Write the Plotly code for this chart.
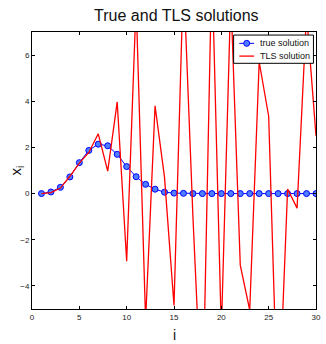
import plotly.graph_objects as go

idx = list(range(1, 31))
true_solution = [0.0, 0.07, 0.27, 0.72, 1.34, 1.87, 2.14, 2.07, 1.70, 1.17,
                 0.73, 0.40, 0.19, 0.06, 0.02, 0.01, 0.0, 0.0, 0.0, 0.0,
                 0.0, 0.0, 0.0, 0.0, 0.0, 0.0, 0.0, 0.0, 0.0, 0.0]
tls_solution = [0.0, 0.04, 0.24, 0.75, 1.32, 1.78, 2.59, 0.97, 3.97, -2.93,
                8.3, -5.5, 3.8, 0.7, -4.85, 9.5, -1.0, -10.0, 10.0, -6.0,
                8.6, -3.1, -5.05, 5.7, 3.35, -10.2, 0.2, -0.63, 7.8, 2.5]
x_ticks = [0, 5, 10, 15, 20, 25, 30]
y_ticks = [-4, -2, 0, 2, 4, 6]
legend_labels = ["true solution", "TLS solution"]

font = "Liberation Sans, Arial, Helvetica, sans-serif"
blue = "#0000ff"
blue_fill = "#4d7fff"
red = "#ff0000"

fig = go.Figure()
fig.add_trace(go.Scatter(
    x=idx, y=true_solution, mode="lines+markers", name=legend_labels[0],
    line=dict(color=blue, width=1),
    marker=dict(symbol="circle", size=6, color=blue_fill,
                line=dict(color=blue, width=1)),
))
fig.add_trace(go.Scatter(
    x=idx, y=tls_solution, mode="lines", name=legend_labels[1],
    line=dict(color=red, width=1.3),
))

axis_common = dict(
    showline=True, linecolor="black", linewidth=1, mirror="ticks",
    ticks="inside", ticklen=3, tickcolor="black", tickwidth=1,
    showgrid=False, zeroline=False,
    tickfont=dict(family=font, size=8, color="#222"),
)
fig.update_xaxes(range=[0, 30], tickvals=x_ticks, **axis_common)
fig.update_yaxes(range=[-5, 7], tickvals=y_ticks, **axis_common)

# custom MATLAB-style legend (box, symbols, labels) in paper coordinates
lx0, lx1, ly0, ly1 = 0.710, 0.991, 0.887, 0.989
rows = [0.959, 0.913]
sym_x0, sym_x1, sym_xm, txt_x = 0.730, 0.782, 0.756, 0.796
shapes = [
    dict(type="rect", xref="paper", yref="paper", x0=lx0, x1=lx1, y0=ly0, y1=ly1,
         line=dict(color="black", width=1), fillcolor="white", layer="above"),
    dict(type="line", xref="paper", yref="paper", x0=sym_x0, x1=sym_x1,
         y0=rows[0], y1=rows[0], line=dict(color=blue, width=1), layer="above"),
    dict(type="circle", xref="paper", yref="paper", xsizemode="pixel",
         ysizemode="pixel", xanchor=sym_xm, yanchor=rows[0],
         x0=-3, x1=3, y0=-3, y1=3, fillcolor=blue_fill,
         line=dict(color=blue, width=1), layer="above"),
    dict(type="line", xref="paper", yref="paper", x0=sym_x0, x1=sym_x1,
         y0=rows[1], y1=rows[1], line=dict(color=red, width=1.3), layer="above"),
]
annotations = [
    dict(text=lab, xref="paper", yref="paper", x=txt_x, y=ry,
         xanchor="left", yanchor="middle", showarrow=False,
         font=dict(family=font, size=9, color="#111"))
    for lab, ry in zip(legend_labels, rows)
]
annotations += [
    dict(text="i", xref="paper", yref="paper", x=0.5, y=0, yshift=-26,
         xanchor="center", yanchor="middle", showarrow=False,
         font=dict(family=font, size=14, color="#111")),
    dict(text="x<sub>i</sub>", xref="paper", yref="paper", x=0, xshift=-16,
         y=0.5, xanchor="center", yanchor="middle", showarrow=False,
         textangle=-90, font=dict(family=font, size=15, color="#111")),
]

fig.update_layout(
    width=326, height=344,
    margin=dict(l=32, r=5, t=32, b=35),
    paper_bgcolor="white", plot_bgcolor="white",
    title=dict(text="True and TLS solutions", x=0.541, xanchor="center",
               y=0.955, yanchor="middle",
               font=dict(family=font, size=16, color="#111")),
    showlegend=False,
    shapes=shapes,
    annotations=annotations,
)

fig.write_html("out.html")
